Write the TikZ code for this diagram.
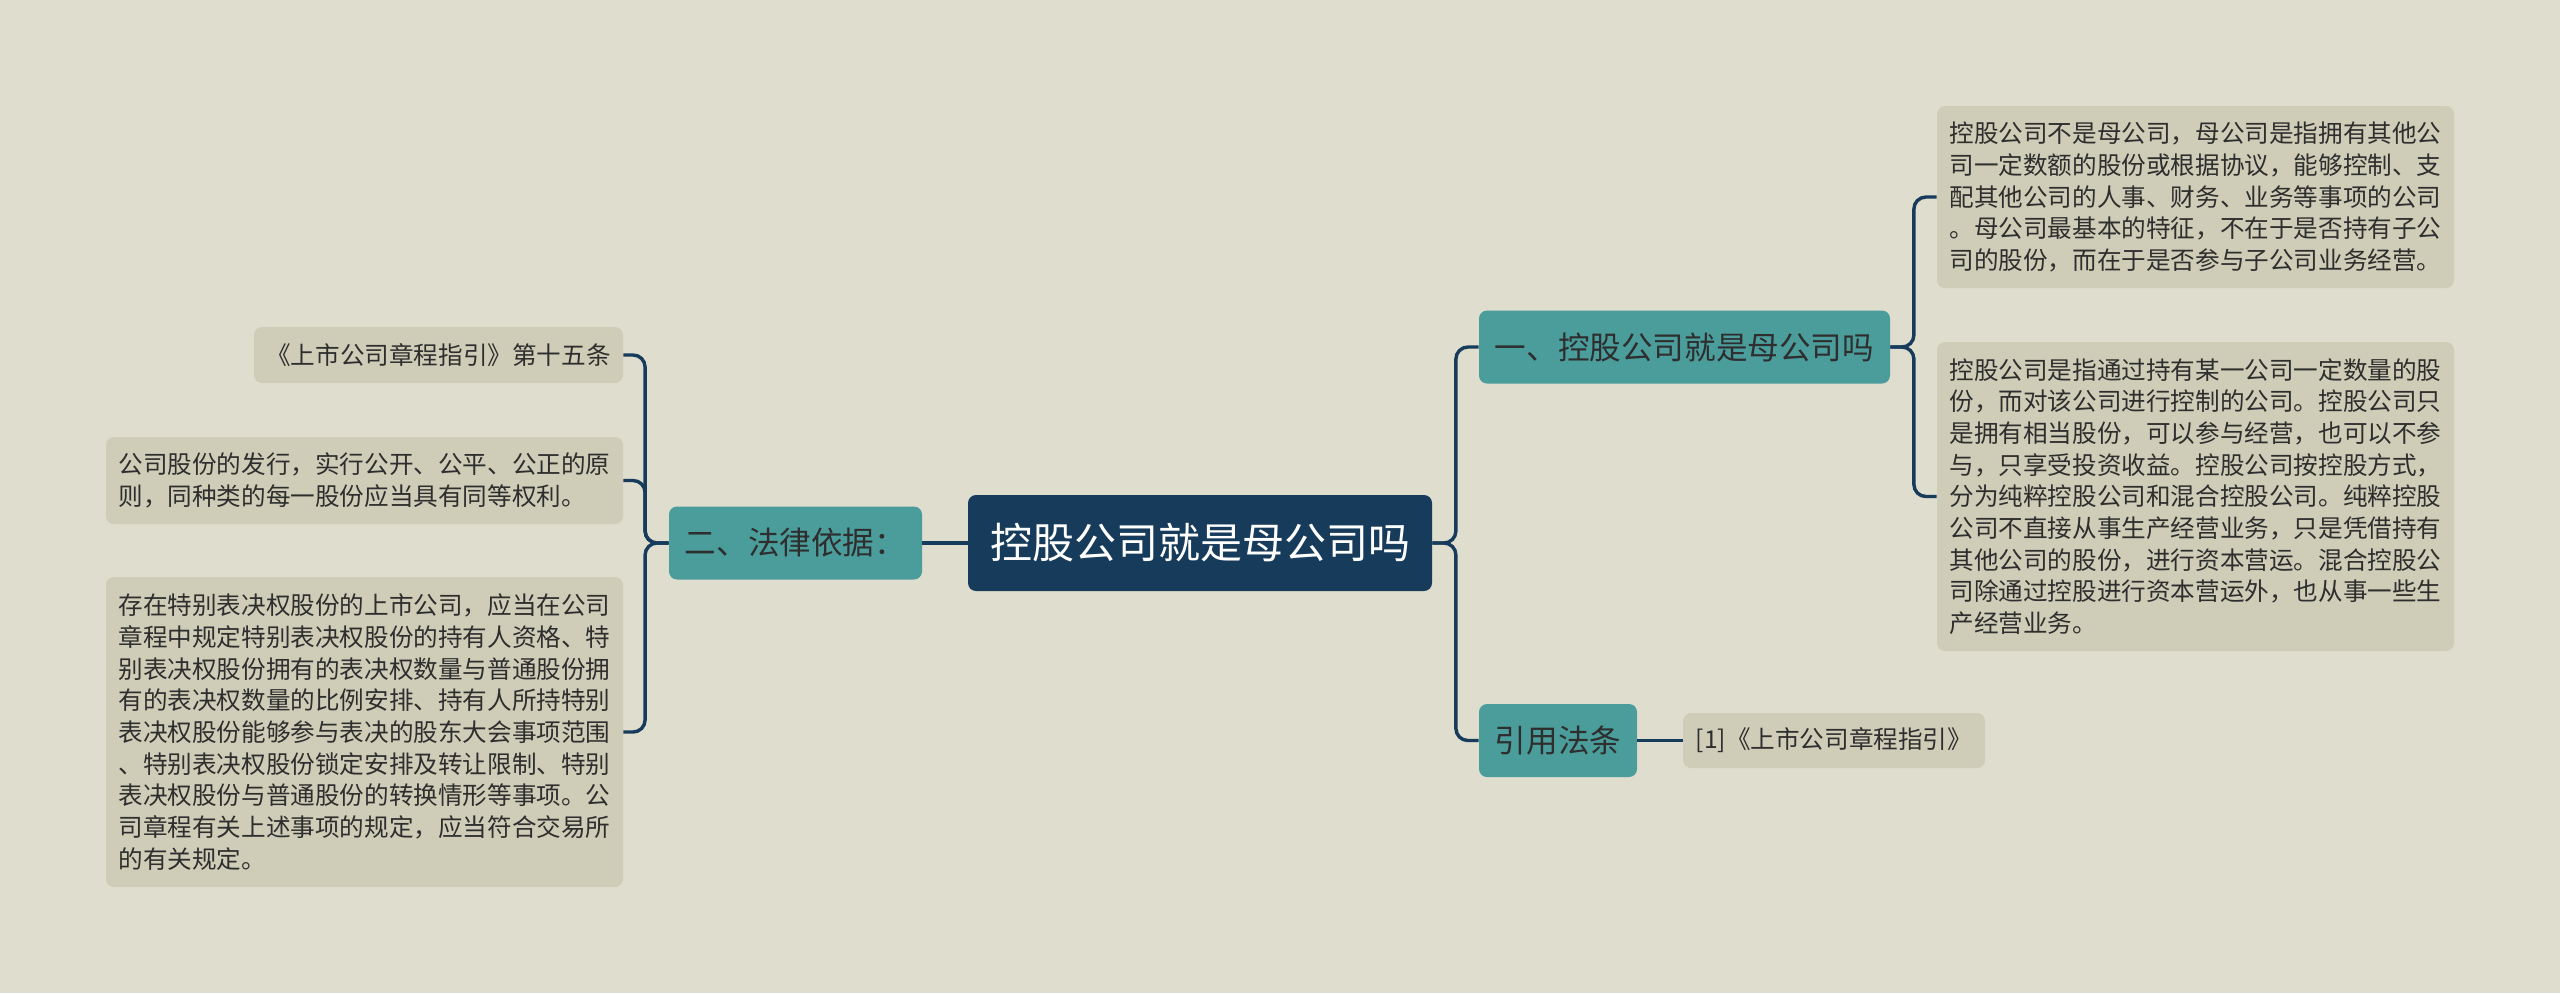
\documentclass[tikz,border=0pt]{standalone}
\usepackage{fontspec}
\newfontfamily\cjk{Noto Sans CJK SC}
\definecolor{bgcol}{HTML}{DFDDCE}
\definecolor{rootcol}{HTML}{173B5B}
\definecolor{branchcol}{HTML}{4B9D9C}
\definecolor{leafcol}{HTML}{CFCDB7}
\definecolor{linecol}{HTML}{173B5B}
\definecolor{txtcol}{HTML}{2E2E2E}

\begin{document}
\begin{tikzpicture}[x=0.5pt, y=-0.5pt,
    root/.style={fill=rootcol, rounded corners=4pt, text=white, inner sep=0pt,
        font=\cjk\fontsize{21pt}{25pt}\selectfont, minimum width=232pt, minimum height=48pt},
    branch/.style={fill=branchcol, rounded corners=4pt, text=txtcol, inner sep=0pt,
        font=\cjk\fontsize{15.8pt}{19pt}\selectfont, minimum height=36.5pt},
    leaf/.style={fill=leafcol, rounded corners=4pt, text=txtcol, inner sep=0pt, align=left,
        font=\cjk\fontsize{12.3pt}{15.85pt}\selectfont},
    link/.style={draw=linecol, line width=1.7pt, rounded corners=6pt}]
    % Nền
    \fill[bgcol] (0,0) rectangle (2560,993);

    % Chủ đề chính
    \node[root] (root) at (1200,543) {控股公司就是母公司吗};

    % Nhánh phải
    \node[branch, minimum width=205.5pt] (sec1) at (1684.5,347) {一、控股公司就是母公司吗};
    \node[branch, minimum width=79pt] (sec3) at (1558,740.5) {引用法条};
    \node[leaf, minimum width=258.5pt, minimum height=91pt] (def1) at (2195.5,197) {%
        控股公司不是母公司，母公司是指拥有其他公\\
        司一定数额的股份或根据协议，能够控制、支\\
        配其他公司的人事、财务、业务等事项的公司\\
        。母公司最基本的特征，不在于是否持有子公\\
        司的股份，而在于是否参与子公司业务经营。};
    \node[leaf, minimum width=258.5pt, minimum height=154.5pt] (def2) at (2195.5,496.5) {%
        控股公司是指通过持有某一公司一定数量的股\\
        份，而对该公司进行控制的公司。控股公司只\\
        是拥有相当股份，可以参与经营，也可以不参\\
        与，只享受投资收益。控股公司按控股方式，\\
        分为纯粹控股公司和混合控股公司。纯粹控股\\
        公司不直接从事生产经营业务，只是凭借持有\\
        其他公司的股份，进行资本营运。混合控股公\\
        司除通过控股进行资本营运外，也从事一些生\\
        产经营业务。};
    \node[leaf, minimum width=151pt, minimum height=27.5pt] (ref1) at (1834,740.5) {[1]《上市公司章程指引》};

    % Nhánh trái
    \node[branch, minimum width=126.5pt] (sec2) at (795.5,543) {二、法律依据：};
    \node[leaf, minimum width=184.5pt, minimum height=28pt] (law1) at (438.5,355) {《上市公司章程指引》第十五条};
    \node[leaf, minimum width=258.5pt, minimum height=43.5pt] (law2) at (364.5,480.5) {%
        公司股份的发行，实行公开、公平、公正的原\\
        则，同种类的每一股份应当具有同等权利。};
    \node[leaf, minimum width=258.5pt, minimum height=155pt] (law3) at (364.5,732) {%
        存在特别表决权股份的上市公司，应当在公司\\
        章程中规定特别表决权股份的持有人资格、特\\
        别表决权股份拥有的表决权数量与普通股份拥\\
        有的表决权数量的比例安排、持有人所持特别\\
        表决权股份能够参与表决的股东大会事项范围\\
        、特别表决权股份锁定安排及转让限制、特别\\
        表决权股份与普通股份的转换情形等事项。公\\
        司章程有关上述事项的规定，应当符合交易所\\
        的有关规定。};

    % Đường nối
    \draw[link] (root.east) -- ++(11.75pt,0) |- (sec1.west);
    \draw[link] (root.east) -- ++(11.75pt,0) |- (sec3.west);
    \draw[link] (sec1.east) -- ++(11.75pt,0) |- (def1.west);
    \draw[link] (sec1.east) -- ++(11.75pt,0) |- (def2.west);
    \draw[link] (sec3.east) -- (ref1.west);
    \draw[link] (root.west) -- (sec2.east);
    \draw[link] (sec2.west) -- ++(-11.75pt,0) |- (law1.east);
    \draw[link] (sec2.west) -- ++(-11.75pt,0) |- (law2.east);
    \draw[link] (sec2.west) -- ++(-11.75pt,0) |- (law3.east);
\end{tikzpicture}
\end{document}
